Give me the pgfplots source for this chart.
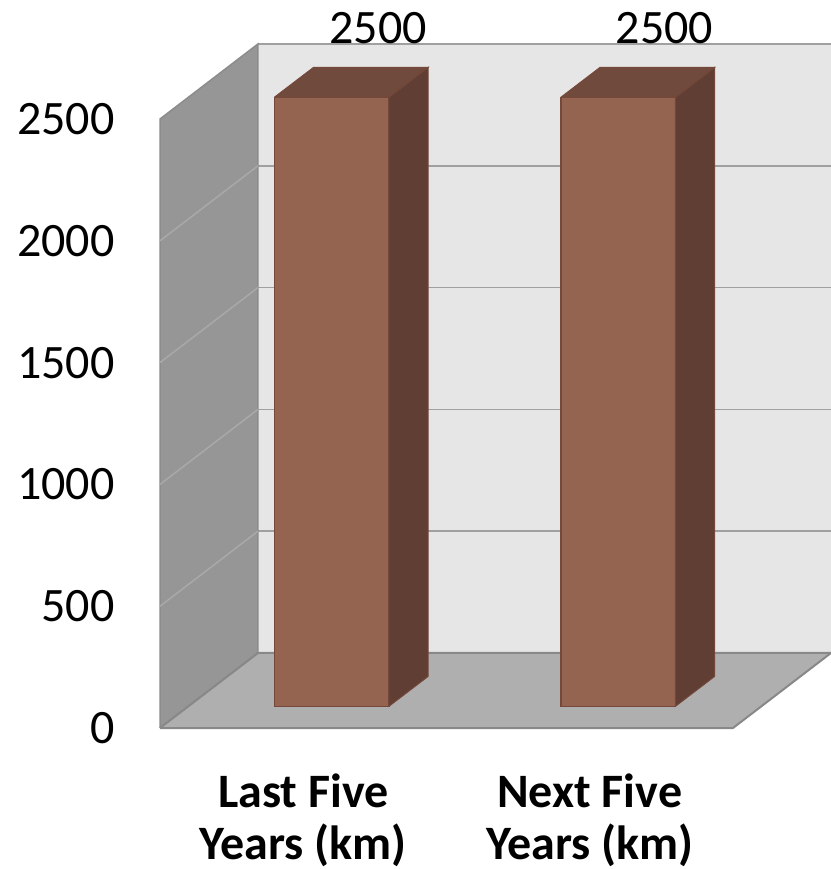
\documentclass[border=0pt]{standalone}
\usepackage{fontspec}
\setmainfont{Carlito}
\usepackage{pgfplots}
\pgfplotsset{compat=1.18}
\definecolor{backwall}{HTML}{E6E6E6}
\definecolor{gridc}{HTML}{A0A0A0}
\definecolor{sidewall}{HTML}{969696}
\definecolor{sidegrid}{HTML}{A9A9A9}
\definecolor{sideedge}{HTML}{8C8C8C}
\definecolor{floorc}{HTML}{AFAFAF}
\definecolor{flooredge}{HTML}{888888}
\definecolor{barfront}{HTML}{956451}
\definecolor{bartop}{HTML}{704A3C}
\definecolor{barside}{HTML}{603E33}
\definecolor{baredge}{HTML}{74483A}
\begin{document}
\begin{tikzpicture}
\begin{axis}[
  x=143.25pt, y=0.1218pt,
  xmin=-0.5, xmax=1.842, ymin=-89, ymax=2719,
  clip=false,
  axis x line*=bottom, axis y line*=left,
  axis line style={draw=none,-},
  major tick length=0pt,
  xtick={0,1},
  xticklabels={{Last Five\\Years (km)},{Next Five\\Years (km)}},
  xticklabel style={font=\fontsize{24}{26}\selectfont\bfseries, align=center, anchor=north, inner sep=0pt, yshift=-22.5pt},
  ytick={-89,411,911,1411,1911,2411},
  yticklabels={0,500,1000,1500,2000,2500},
  yticklabel style={font=\fontsize{24}{28}\selectfont, anchor=east, inner sep=0pt, xshift=-22.5pt},
  /pgf/number format/assume math mode=true,
]
% back wall
\addplot[fill=backwall, draw=none] coordinates {(-0.158,219)(1.842,219)(1.842,2719)(-0.158,2719)(-0.158,219)};
\addplot[gridc, line width=0.75pt] coordinates {(-0.158,719)(1.842,719)};
\addplot[gridc, line width=0.75pt] coordinates {(-0.158,1219)(1.842,1219)};
\addplot[gridc, line width=0.75pt] coordinates {(-0.158,1719)(1.842,1719)};
\addplot[gridc, line width=0.75pt] coordinates {(-0.158,2219)(1.842,2219)};
\addplot[gridc, line width=0.75pt] coordinates {(-0.158,2719)(1.842,2719)};
% side wall
\addplot[fill=sidewall, draw=sideedge, line width=0.75pt] coordinates {(-0.5,-89)(-0.5,2411)(-0.158,2719)(-0.158,219)(-0.5,-89)};
\addplot[sidegrid, line width=0.75pt] coordinates {(-0.5,411)(-0.158,719)};
\addplot[sidegrid, line width=0.75pt] coordinates {(-0.5,911)(-0.158,1219)};
\addplot[sidegrid, line width=0.75pt] coordinates {(-0.5,1411)(-0.158,1719)};
\addplot[sidegrid, line width=0.75pt] coordinates {(-0.5,1911)(-0.158,2219)};
% floor
\addplot[fill=floorc, draw=flooredge, line width=1pt] coordinates {(-0.5,-89)(1.5,-89)(1.842,219)(-0.158,219)(-0.5,-89)};
% bars: front faces
\addplot[ybar, bar width=0.4, bar shift=0.099, fill=barfront, draw=baredge, line width=0.75pt] coordinates {(0,2500)(1,2500)};
% bar 1 top and side
\addplot[fill=bartop, draw=baredge, line width=0.5pt] coordinates {(-0.101,2500)(0.299,2500)(0.436,2623)(0.036,2623)(-0.101,2500)};
\addplot[fill=barside, draw=baredge, line width=0.5pt] coordinates {(0.299,0)(0.436,123)(0.436,2623)(0.299,2500)(0.299,0)};
% bar 2 top and side
\addplot[fill=bartop, draw=baredge, line width=0.5pt] coordinates {(0.899,2500)(1.299,2500)(1.436,2623)(1.036,2623)(0.899,2500)};
\addplot[fill=barside, draw=baredge, line width=0.5pt] coordinates {(1.299,0)(1.436,123)(1.436,2623)(1.299,2500)(1.299,0)};
% data labels
\addplot[draw=none, nodes near coords, point meta=explicit symbolic,
  nodes near coords style={font=\fontsize{24}{28}\selectfont, anchor=center, inner sep=0pt}]
  coordinates {(0.261,2785)[2500] (1.261,2785)[2500]};
\coordinate (bl) at (axis cs:-1.0585,-667.8);
\coordinate (tr) at (axis cs:1.842,2899.5);
\end{axis}
\pgfresetboundingbox
\path[use as bounding box] (bl) rectangle (tr);
\end{tikzpicture}
\end{document}
